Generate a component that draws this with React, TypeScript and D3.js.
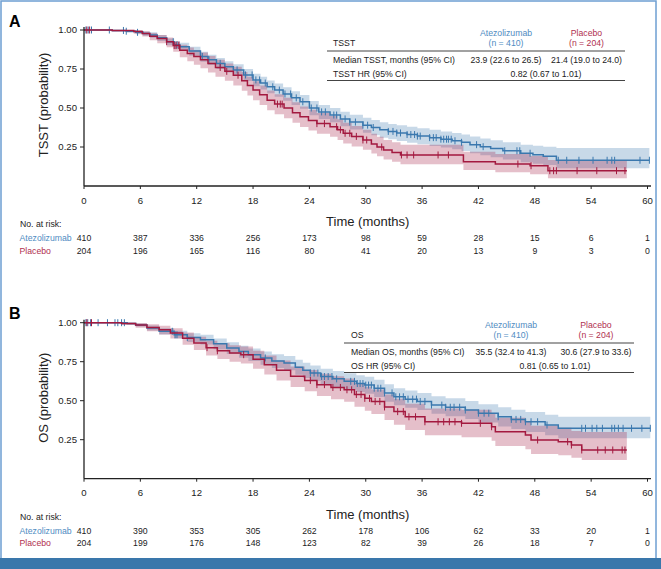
import React from 'react';
import * as d3 from 'd3';

type Row = [number, number, number, number];

// ---------- data ----------
const monthTicks = [0, 6, 12, 18, 24, 30, 36, 42, 48, 54, 60];
const probTicks = [0.25, 0.5, 0.75, 1.0];

// [time, survival, lower CI, upper CI]
const tsstAtezo: Row[] = [
  [0, 1, 1, 1], [3.0, .997, .991, 1], [4.5, .992, .982, 1], [5.5, .985, .973, .995], [6.3, .978, .963, .99],
  [7.0, .968, .95, .985], [7.8, .95, .93, .968], [8.8, .925, .902, .945], [9.6, .905, .879, .928], [10.2, .893, .865, .918],
  [11.2, .865, .835, .892], [12.4, .83, .797, .86], [13.2, .81, .776, .842], [14.1, .786, .75, .82], [15.0, .765, .728, .80],
  [15.9, .744, .706, .78], [17.0, .712, .673, .75], [18.0, .68, .64, .72], [18.8, .66, .619, .70], [19.5, .636, .594, .677],
  [20.3, .615, .572, .657], [21.2, .59, .546, .633], [22.1, .565, .52, .608], [23.0, .54, .495, .584], [24.0, .50, .454, .545],
  [25.0, .475, .429, .52], [26.2, .455, .408, .50], [27.3, .43, .383, .476], [28.3, .41, .362, .456], [29.7, .39, .341, .437],
  [30.6, .375, .326, .423], [31.5, .36, .31, .408], [32.4, .35, .30, .398], [33.3, .34, .289, .39], [34.4, .33, .278, .38],
  [35.5, .32, .268, .37], [36.8, .31, .257, .36], [38.0, .30, .246, .35], [39.2, .29, .236, .34], [40.2, .28, .225, .33],
  [41.1, .265, .21, .317], [42.2, .252, .197, .304], [43.3, .24, .184, .293], [44.6, .226, .17, .28], [46.5, .21, .153, .265],
  [47.8, .20, .142, .258], [48.9, .19, .135, .252], [50.3, .165, .113, .244],
];
const tsstAtezoEnd = 60.2;
const tsstAtezoCensor = [0.2, 0.45, 0.8, 2.7, 4.2, 4.5, 5.7, 9.5, 9.9, 12.6, 13.3, 14.5, 16.3, 17.2, 17.9, 18.3, 18.7, 19.3, 20.1, 20.8,
  21.4, 22.0, 22.6, 23.3, 24.2, 24.8, 25.3, 25.7, 26.6, 26.9, 27.8, 28.3, 28.9, 29.7, 30.2, 30.8, 32.4, 32.9, 33.3, 33.7, 34.4, 34.8,
  35.2, 35.5, 35.8, 36.8, 37.2, 37.5, 38.0, 38.3, 38.6, 38.8, 39.1, 39.5, 40.2, 41.8, 42.5, 44.8, 46.1, 46.4, 47.5, 50.5, 51.4, 52.7,
  54.2, 55.7, 56.2, 56.5, 59.2, 60.2];

const tsstPlacebo: Row[] = [
  [0, 1, 1, 1], [3.0, .997, .99, 1], [5.3, .99, .976, 1], [6.2, .978, .958, .992], [7.0, .96, .935, .98],
  [7.8, .945, .915, .968], [8.8, .925, .89, .952], [9.5, .90, .86, .93], [10.2, .87, .825, .905], [11.0, .85, .80, .888],
  [11.7, .83, .778, .872], [12.4, .81, .755, .855], [13.2, .785, .727, .833], [14.0, .76, .70, .81], [15.0, .735, .674, .786],
  [15.9, .71, .645, .764], [16.8, .675, .61, .73], [17.4, .645, .58, .70], [18.0, .615, .55, .672], [18.7, .585, .52, .645],
  [19.5, .55, .485, .612], [20.3, .525, .46, .588], [21.3, .50, .435, .565], [22.2, .47, .405, .537], [23.0, .444, .378, .51],
  [23.9, .42, .355, .488], [24.8, .40, .335, .468], [26.2, .38, .315, .448], [27.0, .36, .295, .428], [27.6, .338, .273, .405],
  [28.5, .318, .254, .385], [29.7, .295, .232, .36], [30.6, .27, .208, .335], [31.2, .25, .19, .315], [31.9, .23, .17, .295],
  [32.8, .215, .155, .28], [33.7, .199, .14, .265], [40.4, .156, .102, .22], [43.8, .141, .088, .205], [47.5, .13, .076, .192],
  [49.4, .098, .05, .167],
];
const tsstPlaceboEnd = 57.8;
const tsstPlaceboCensor = [0.3, 0.6, 8.8, 9.6, 9.8, 10.1, 14.5, 15.2, 16.4, 20.6, 20.9, 21.1, 24.8, 25.6, 26.9, 27.3, 27.8, 28.3,
  29.0, 29.7, 30.1, 31.7, 33.8, 34.4, 35.1, 37.7, 38.8, 46.2, 47.6, 49.6, 50.0, 50.3, 52.5, 54.6, 56.7, 57.6];

const osAtezo: Row[] = [
  [0, 1, 1, 1], [4.6, .995, .988, 1], [5.5, .985, .975, .995], [6.7, .966, .95, .982], [8.0, .945, .925, .965],
  [9.6, .923, .898, .948], [11.0, .905, .877, .933], [12.4, .891, .86, .922], [13.8, .865, .83, .898], [15.2, .838, .80, .874],
  [16.5, .815, .775, .853], [17.5, .795, .754, .835], [18.8, .774, .73, .815], [20.0, .755, .71, .798], [21.3, .742, .695, .787],
  [22.5, .715, .667, .762], [23.3, .695, .646, .743], [24.1, .677, .627, .726], [25.2, .655, .604, .705], [26.5, .64, .588, .69],
  [27.7, .624, .571, .676], [29.0, .61, .556, .663], [29.9, .60, .545, .654], [30.9, .58, .524, .635], [32.0, .55, .494, .605],
  [33.0, .525, .471, .58], [34.2, .51, .455, .565], [35.5, .495, .44, .55], [37.0, .472, .416, .528], [38.5, .458, .40, .515],
  [40.6, .44, .382, .498], [42.0, .42, .36, .478], [44.1, .397, .335, .458], [45.5, .38, .318, .442], [47.0, .365, .30, .428],
  [49.1, .344, .278, .41], [50.5, .323, .259, .397],
];
const osAtezoEnd = 60.3;
const osAtezoCensor = [0.2, 0.4, 0.7, 1.5, 2.5, 3.3, 3.6, 4.0, 4.3, 9.4, 9.7, 9.9, 11.0, 19.3, 24.1, 24.5, 24.9, 25.3, 25.6, 26.0,
  26.4, 26.9, 28.4, 28.8, 29.1, 29.4, 29.7, 30.0, 30.3, 30.6, 30.9, 31.3, 31.6, 32.0, 32.8, 33.2, 33.6, 34.0, 34.5, 35.0, 35.4,
  35.8, 36.3, 37.0, 38.1, 38.5, 39.0, 39.4, 40.0, 40.6, 42.0, 42.6, 43.1, 44.1, 45.5, 46.0, 46.5, 47.0, 47.6, 48.3, 49.3, 53.0,
  53.4, 54.1, 54.6, 55.2, 56.2, 56.5, 56.9, 57.4, 58.3, 59.4, 60.3];

const osPlacebo: Row[] = [
  [0, 1, 1, 1], [4.0, .995, .985, 1], [5.5, .985, .968, .998], [6.7, .97, .945, .99], [8.0, .955, .925, .98],
  [9.2, .934, .898, .965], [10.5, .90, .858, .937], [11.7, .87, .825, .91], [13.0, .84, .79, .885], [14.2, .82, .768, .868],
  [15.5, .805, .75, .855], [16.7, .795, .738, .847], [18.0, .765, .705, .82], [19.2, .731, .668, .79], [20.5, .695, .63, .757],
  [22.0, .656, .588, .72], [23.5, .63, .56, .697], [24.8, .603, .53, .672], [26.3, .585, .51, .656], [27.7, .57, .494, .642],
  [28.8, .54, .462, .614], [29.9, .515, .435, .59], [30.6, .495, .414, .572], [32.0, .46, .377, .54], [33.0, .43, .346, .512],
  [34.2, .397, .312, .48], [36.3, .365, .278, .45], [40.2, .355, .266, .442], [43.4, .333, .243, .42], [43.8, .301, .21, .39],
  [47.0, .28, .188, .37], [47.6, .248, .158, .34], [50.5, .237, .15, .327], [51.9, .216, .135, .305], [53.0, .184, .12, .30],
];
const osPlaceboEnd = 57.8;
const osPlaceboCensor = [0.3, 0.8, 13.1, 14.2, 17.0, 24.1, 24.8, 25.6, 26.5, 27.3, 28.0, 28.5, 29.0, 29.5, 29.9, 30.4, 31.0, 31.5,
  32.0, 33.4, 34.0, 34.6, 35.3, 36.3, 37.7, 38.3, 38.9, 39.5, 40.2, 42.2, 43.4, 48.3, 51.5, 51.9, 53.0, 54.7, 55.5, 56.3, 57.3, 57.6];

const tsstRiskAtezo = [410, 387, 336, 256, 173, 98, 59, 28, 15, 6, 1];
const tsstRiskPlacebo = [204, 196, 165, 116, 80, 41, 20, 13, 9, 3, 0];
const osRiskAtezo = [410, 390, 353, 305, 262, 178, 106, 62, 33, 20, 1];
const osRiskPlacebo = [204, 199, 176, 148, 123, 82, 39, 26, 18, 7, 0];

const armNames = ['Atezolizumab', 'Placebo'];
const armN = ['(n = 410)', '(n = 204)'];
const tsstTable = { title: 'TSST', medianLabel: 'Median TSST, months (95% CI)', med: ['23.9 (22.6 to 26.5)', '21.4 (19.0 to 24.0)'], hrLabel: 'TSST HR (95% CI)', hr: '0.82 (0.67 to 1.01)' };
const osTable = { title: 'OS', medianLabel: 'Median OS, months (95% CI)', med: ['35.5 (32.4 to 41.3)', '30.6 (27.9 to 33.6)'], hrLabel: 'OS HR (95% CI)', hr: '0.81 (0.65 to 1.01)' };

// ---------- style ----------
const BLUE = '#3a78ae';
const RED = '#a3193f';
const BLUE_TXT = '#4f8cc2';
const RED_TXT = '#b0304f';
const FONT = '"Liberation Sans", Arial, Helvetica, sans-serif';
const SMALL = 8.7;

const W = 661;
const H = 569;

const x = d3.scaleLinear().domain([0, 60]).range([84, 647.5]);

function stepAt(rows: Row[], t: number) {
  let v = rows[0][1];
  for (const r of rows) if (r[0] <= t) v = r[1];
  return v;
}

function Curve({ rows, end, censor, y, color, part }: { rows: Row[]; end: number; censor: number[]; y: d3.ScaleLinear<number, number>; color: string; part: 'band' | 'line' }) {
  const last = rows[rows.length - 1];
  const pts: Row[] = [...rows, [end, last[1], last[2], last[3]]];
  if (part === 'band') {
    const area = d3.area<Row>().x(d => x(d[0])).y0(d => y(d[2])).y1(d => y(d[3])).curve(d3.curveStepAfter);
    return <path d={area(pts) || ''} fill={color} fillOpacity={0.28} stroke="none" />;
  }
  const line = d3.line<Row>().x(d => x(d[0])).y(d => y(d[1])).curve(d3.curveStepAfter);
  return (
    <g>
      <path d={line(pts) || ''} fill="none" stroke={color} strokeWidth={1.5} />
      {censor.map((t, i) => {
        const cy = y(stepAt(rows, t));
        return <line key={i} x1={x(t)} x2={x(t)} y1={cy - 3.5} y2={cy + 3.5} stroke={color} strokeWidth={1} />;
      })}
    </g>
  );
}

type TableCfg = { x1: number; x2: number; tx: number; c1: number; c2: number; hrX: number; top: number };

function Panel({ top, label, yTitle, atezo, atezoEnd, atezoCensor, placebo, placeboEnd, placeboCensor, riskA, riskP, table, tcfg }: any) {
  const y = d3.scaleLinear().domain([0, 1]).range([top + 156, top]);
  const axisY = y(0);
  const t: TableCfg = tcfg;
  return (
    <g>
      <text x={9} y={top - 3.5} fontSize={16} fontWeight="bold" fontFamily={FONT}>{label}</text>
      <Curve rows={atezo} end={atezoEnd} censor={atezoCensor} y={y} color={BLUE} part="band" />
      <Curve rows={placebo} end={placeboEnd} censor={placeboCensor} y={y} color={RED} part="band" />
      <Curve rows={atezo} end={atezoEnd} censor={atezoCensor} y={y} color={BLUE} part="line" />
      <Curve rows={placebo} end={placeboEnd} censor={placeboCensor} y={y} color={RED} part="line" />
      {/* y axis */}
      <line x1={84} x2={84} y1={top - 3} y2={axisY} stroke="#222" strokeWidth={1.3} />
      {probTicks.map(p => (
        <g key={p}>
          <line x1={80} x2={84} y1={y(p)} y2={y(p)} stroke="#222" strokeWidth={1} />
          <text x={77} y={y(p)} dy="0.35em" textAnchor="end" fontSize={9.6} fontFamily={FONT} fill="#222">{p.toFixed(2)}</text>
        </g>
      ))}
      <text transform={`translate(47.5,${y(0.5) - 3}) rotate(-90)`} textAnchor="middle" fontSize={13} fontFamily={FONT} fill="#222">{yTitle}</text>
      {/* x axis */}
      <line x1={84} x2={651} y1={axisY} y2={axisY} stroke="#222" strokeWidth={1.3} />
      {monthTicks.map(m => (
        <g key={m}>
          <line x1={x(m)} x2={x(m)} y1={axisY} y2={axisY + 3} stroke="#222" strokeWidth={1} />
          <text x={x(m)} y={axisY + 17.5} textAnchor="middle" fontSize={9.6} fontFamily={FONT} fill="#222">{m}</text>
        </g>
      ))}
      <text x={x(30) + 2} y={axisY + 40} textAnchor="middle" fontSize={13} fontFamily={FONT} fill="#222">Time (months)</text>
      {/* risk table */}
      <text x={20} y={axisY + 41} fontSize={SMALL} fontFamily={FONT} fill="#222">No. at risk:</text>
      <text x={19.5} y={axisY + 55} fontSize={SMALL} fontFamily={FONT} fill={BLUE_TXT}>{armNames[0]}</text>
      <text x={19.5} y={axisY + 67.5} fontSize={SMALL} fontFamily={FONT} fill={RED_TXT}>{armNames[1]}</text>
      {monthTicks.map((m, i) => (
        <g key={'r' + m}>
          <text x={x(m)} y={axisY + 55} textAnchor="middle" fontSize={SMALL} fontFamily={FONT} fill="#222">{riskA[i]}</text>
          <text x={x(m)} y={axisY + 67.5} textAnchor="middle" fontSize={SMALL} fontFamily={FONT} fill="#222">{riskP[i]}</text>
        </g>
      ))}
      {/* summary table */}
      <g fontFamily={FONT} fontSize={SMALL}>
        <text x={t.c1} y={t.top + 6} textAnchor="middle" fill={BLUE_TXT}>{armNames[0]}</text>
        <text x={t.c1} y={t.top + 16.3} textAnchor="middle" fill={BLUE_TXT}>{armN[0]}</text>
        <text x={t.c2} y={t.top + 6} textAnchor="middle" fill={RED_TXT}>{armNames[1]}</text>
        <text x={t.c2} y={t.top + 16.3} textAnchor="middle" fill={RED_TXT}>{armN[1]}</text>
        <text x={t.tx} y={t.top + 16.3} fill="#222">{table.title}</text>
        <line x1={t.x1} x2={t.x2} y1={t.top + 21} y2={t.top + 21} stroke="#444" strokeWidth={1.2} />
        <text x={t.tx} y={t.top + 32.5} fill="#222">{table.medianLabel}</text>
        <text x={t.c1} y={t.top + 32.5} textAnchor="middle" fill="#222">{table.med[0]}</text>
        <text x={t.c2} y={t.top + 32.5} textAnchor="middle" fill="#222">{table.med[1]}</text>
        <text x={t.tx} y={t.top + 46.8} fill="#222">{table.hrLabel}</text>
        <text x={t.hrX} y={t.top + 46.8} textAnchor="middle" fill="#222">{table.hr}</text>
        <line x1={t.x1} x2={t.x2} y1={t.top + 50.5} y2={t.top + 50.5} stroke="#444" strokeWidth={1.2} />
      </g>
    </g>
  );
}

export default function App() {
  return (
    <svg width={W} height={H} style={{ position: 'absolute', left: 0, top: 0, background: '#fff' }}>
      <rect x={0} y={0} width={W} height={H} fill="#fff" />
      <rect x={1} y={1} width={655} height={558} fill="none" stroke="#6e9fd2" strokeWidth={1.5} />
      <rect x={0} y={558} width={W} height={11} fill="#3a77ab" />
      <Panel top={30} label="A" yTitle="TSST (probability)"
        atezo={tsstAtezo} atezoEnd={tsstAtezoEnd} atezoCensor={tsstAtezoCensor}
        placebo={tsstPlacebo} placeboEnd={tsstPlaceboEnd} placeboCensor={tsstPlaceboCensor}
        riskA={tsstRiskAtezo} riskP={tsstRiskPlacebo} table={tsstTable}
        tcfg={{ x1: 327, x2: 625, tx: 333, c1: 506, c2: 586.5, hrX: 546, top: 30 }} />
      <Panel top={322.7} label="B" yTitle="OS (probability)"
        atezo={osAtezo} atezoEnd={osAtezoEnd} atezoCensor={osAtezoCensor}
        placebo={osPlacebo} placeboEnd={osPlaceboEnd} placeboCensor={osPlaceboCensor}
        riskA={osRiskAtezo} riskP={osRiskPlacebo} table={osTable}
        tcfg={{ x1: 344, x2: 634, tx: 351, c1: 511, c2: 596, hrX: 555, top: 322 }} />
    </svg>
  );
}
